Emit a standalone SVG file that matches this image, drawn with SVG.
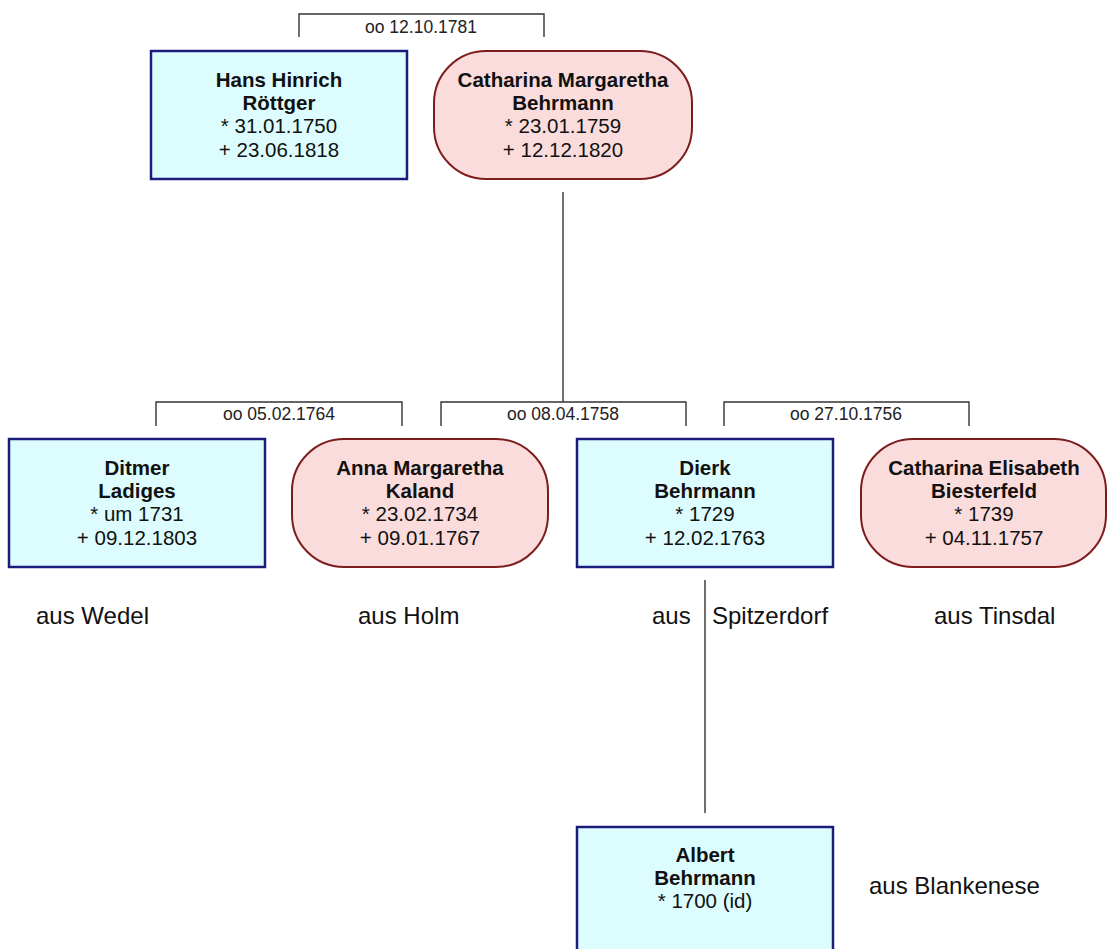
<svg xmlns="http://www.w3.org/2000/svg" width="1107" height="949" viewBox="0 0 1107 949">
  <style>
    .male { fill: #dcfcfd; stroke: #1c1c7c; stroke-width: 2.5; }
    .female { fill: #fbdcdc; stroke: #7c1c1c; stroke-width: 2; }
    .name { font-family: "Liberation Sans", Arial, sans-serif; font-size: 20.5px; font-weight: bold; fill: #111; text-anchor: middle; }
    .date { font-family: "Liberation Sans", Arial, sans-serif; font-size: 20.5px; fill: #111; text-anchor: middle; }
    .wed { font-family: "Liberation Sans", Arial, sans-serif; font-size: 17.5px; fill: #222; text-anchor: middle; }
    .place { font-family: "Liberation Sans", Arial, sans-serif; font-size: 24px; fill: #111; }
    .link { fill: none; stroke: #333; stroke-width: 1.4; }
  </style>

  <!-- connectors: marriage brackets and descent lines -->
  <g id="connectors">
    <path class="link" d="M299 37 V14 H544 V37"/>
    <text class="wed" x="421" y="33">oo 12.10.1781</text>
    <line class="link" x1="563" y1="192" x2="563" y2="402"/>
    <path class="link" d="M156 426 V402 H402 V426"/>
    <text class="wed" x="279" y="420">oo 05.02.1764</text>
    <path class="link" d="M441 426 V402 H686 V426"/>
    <text class="wed" x="563" y="420">oo 08.04.1758</text>
    <path class="link" d="M724 426 V402 H969 V426"/>
    <text class="wed" x="846" y="420">oo 27.10.1756</text>
    <line class="link" x1="705" y1="580" x2="705" y2="813"/>
  </g>

  <g id="hans-hinrich-roettger">
    <rect class="male" x="151" y="51" width="256" height="128"/>
    <text class="name" x="279" y="87">Hans Hinrich</text>
    <text class="name" x="279" y="110">Röttger</text>
    <text class="date" x="279" y="133">* 31.01.1750</text>
    <text class="date" x="279" y="157">+ 23.06.1818</text>
  </g>

  <g id="catharina-margaretha-behrmann">
    <rect class="female" x="434" y="51" width="258" height="128" rx="52" ry="52"/>
    <text class="name" x="563" y="87">Catharina Margaretha</text>
    <text class="name" x="563" y="110">Behrmann</text>
    <text class="date" x="563" y="133">* 23.01.1759</text>
    <text class="date" x="563" y="157">+ 12.12.1820</text>
  </g>

  <g id="ditmer-ladiges">
    <rect class="male" x="9" y="439" width="256" height="128"/>
    <text class="name" x="137" y="475">Ditmer</text>
    <text class="name" x="137" y="498">Ladiges</text>
    <text class="date" x="137" y="521">* um 1731</text>
    <text class="date" x="137" y="545">+ 09.12.1803</text>
  </g>

  <g id="anna-margaretha-kaland">
    <rect class="female" x="292" y="439" width="256" height="128" rx="52" ry="52"/>
    <text class="name" x="420" y="475">Anna Margaretha</text>
    <text class="name" x="420" y="498">Kaland</text>
    <text class="date" x="420" y="521">* 23.02.1734</text>
    <text class="date" x="420" y="545">+ 09.01.1767</text>
  </g>

  <g id="dierk-behrmann">
    <rect class="male" x="577" y="439" width="256" height="128"/>
    <text class="name" x="705" y="475">Dierk</text>
    <text class="name" x="705" y="498">Behrmann</text>
    <text class="date" x="705" y="521">* 1729</text>
    <text class="date" x="705" y="545">+ 12.02.1763</text>
  </g>

  <g id="catharina-elisabeth-biesterfeld">
    <rect class="female" x="861" y="439" width="245" height="128" rx="52" ry="52"/>
    <text class="name" x="984" y="475">Catharina Elisabeth</text>
    <text class="name" x="984" y="498">Biesterfeld</text>
    <text class="date" x="984" y="521">* 1739</text>
    <text class="date" x="984" y="545">+ 04.11.1757</text>
  </g>

  <g id="albert-behrmann">
    <rect class="male" x="577" y="827" width="256" height="128"/>
    <text class="name" x="705" y="862">Albert</text>
    <text class="name" x="705" y="885">Behrmann</text>
    <text class="date" x="705" y="908">* 1700 (id)</text>
  </g>

  <!-- places of origin -->
  <g id="places">
    <text class="place" x="36" y="624">aus Wedel</text>
    <text class="place" x="358" y="624">aus Holm</text>
    <text class="place" x="652" y="624">aus</text>
    <text class="place" x="712" y="624">Spitzerdorf</text>
    <text class="place" x="934" y="624">aus Tinsdal</text>
    <text class="place" x="869" y="894">aus Blankenese</text>
  </g>
</svg>
